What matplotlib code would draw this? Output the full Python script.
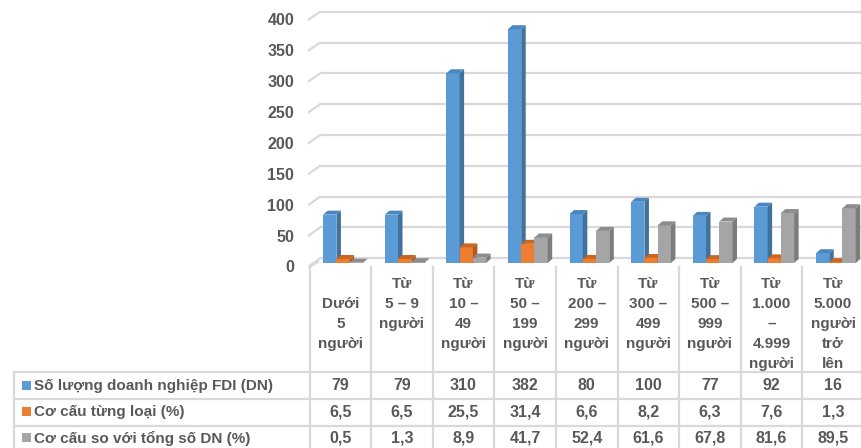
import matplotlib
matplotlib.use("Agg")
import matplotlib.pyplot as plt
from matplotlib.patches import Polygon, Rectangle

categories = ["\nDưới\n5\nngười", "Từ\n5 – 9\nngười", "Từ\n10 –\n49\nngười", "Từ\n50 –\n199\nngười",
              "Từ\n200 –\n299\nngười", "Từ\n300 –\n499\nngười", "Từ\n500 –\n999\nngười",
              "Từ\n1.000\n–\n4.999\nngười", "Từ\n5.000\nngười\ntrở\nlên"]
series_names = ["Số lượng doanh nghiệp FDI (DN)", "Cơ cấu từng loại (%)", "Cơ cấu so với tổng số DN (%)"]
so_luong = [79, 79, 310, 382, 80, 100, 77, 92, 16]
co_cau = [6.5, 6.5, 25.5, 31.4, 6.6, 8.2, 6.3, 7.6, 1.3]
co_cau_tong = [0.5, 1.3, 8.9, 41.7, 52.4, 61.6, 67.8, 81.6, 89.5]
y_ticks = [0, 50, 100, 150, 200, 250, 300, 350, 400]

front_cols = ["#5B9BD5", "#ED7D31", "#A5A5A5"]
side_cols = ["#41719C", "#AE5A21", "#7C7C7C"]
top_cols = ["#4A86C0", "#C9661F", "#8C8C8C"]
txt_col = "#595959"
grid_col = "#D9D9D9"
FONT = "Liberation Sans"

W, H = 861, 448
fig = plt.figure(figsize=(W / 100, H / 100), dpi=100)

colw = 61.6          # pixel width of one category
x0px = 309.5         # pixel of category 0 left edge
base_px = 263        # pixel row of value 0 on bar fronts
ppu = 0.612          # pixels per value unit

ax_l, ax_r, ax_t, ax_b = 308, W, 0, 267
ax = fig.add_axes([ax_l / W, (H - ax_b) / H, (ax_r - ax_l) / W, (ax_b - ax_t) / H])
ax.set_xlim((ax_l - x0px) / colw, (ax_r - x0px) / colw)
ax.set_ylim((base_px - ax_b) / ppu, (base_px - ax_t) / ppu)
ax.axis("off")

dx = 4.5 / colw
dy = 4.0 / ppu

def y_back(v):
    return v * 1.007 + 7.7

def y_front(v):
    return v * 1.009 - 6.5

xb = (320 - x0px) / colw
xf = (ax_l - x0px) / colw
xr = (ax_r - x0px) / colw
for v in y_ticks:
    ax.plot([xb, xr], [y_back(v), y_back(v)], color=grid_col, lw=1.6, zorder=1, solid_capstyle="butt")
    ax.plot([xf, xb], [y_front(v), y_back(v)], color=grid_col, lw=1.6, zorder=1)

bw = 0.215
start = 0.222
series = [so_luong, co_cau, co_cau_tong]
z = 2
for i in range(len(categories)):
    for s, vals in enumerate(series):
        h = vals[i]
        xl = i + start + s * bw
        xr2 = xl + bw
        ax.add_patch(Rectangle((xl, 0), bw, h, facecolor=front_cols[s], edgecolor="none", zorder=z))
        ax.add_patch(Polygon([(xr2, 0), (xr2 + dx, dy), (xr2 + dx, h + dy), (xr2, h)],
                             closed=True, facecolor=side_cols[s], edgecolor="none", zorder=z))
        ax.add_patch(Polygon([(xl, h), (xr2, h), (xr2 + dx, h + dy), (xl + dx, h + dy)],
                             closed=True, facecolor=top_cols[s], edgecolor="none", zorder=z))
        z += 1

for v in y_ticks:
    fig.text(294 / W, 1 - (base_px - y_front(v) * ppu + 1) / H, str(v), ha="right", va="center",
             fontsize=11.5, fontweight="bold", color=txt_col, family=FONT)

tab = fig.add_axes([0, 0, 1, 1])
tab.set_xlim(-x0px / colw, (W - x0px) / colw)
tab.set_ylim(H, 0)
tab.axis("off")
tab.patch.set_alpha(0)

left_border = (14 - x0px) / colw
n = len(categories)
row_lines = [372, 399, 426]
for k in range(n + 1):
    tab.plot([k, k], [267, H], color=grid_col, lw=1.6, zorder=1)
tab.plot([left_border, left_border], [row_lines[0], H], color=grid_col, lw=1.6)
for yl in row_lines:
    tab.plot([left_border, (W - x0px) / colw], [yl, yl], color=grid_col, lw=1.6)
tab.plot([0, (318 - x0px) / colw], [267, 262], color=grid_col, lw=1.6)

for i, c in enumerate(categories):
    tab.text(i + 0.5, 276.5, c, ha="center", va="top", fontsize=11, fontweight="bold",
             color=txt_col, family=FONT, linespacing=1.56)

row_y = [385.5, 412, 438]
fmt = lambda v: (f"{v:g}").replace(".", ",")
for r, (name, vals) in enumerate(zip(series_names, series)):
    tab.add_patch(Rectangle(((22 - x0px) / colw, row_y[r] - 4.5), 9 / colw, 9,
                            facecolor=front_cols[r], edgecolor="none"))
    tab.text((34 - x0px) / colw, row_y[r], name, ha="left", va="center", fontsize=11,
             fontweight="bold", color=txt_col, family=FONT)
    for i, v in enumerate(vals):
        tab.text(i + 0.5, row_y[r], fmt(v), ha="center", va="center", fontsize=11.5,
                 fontweight="bold", color=txt_col, family=FONT)

fig.savefig("out.png", dpi=100)
